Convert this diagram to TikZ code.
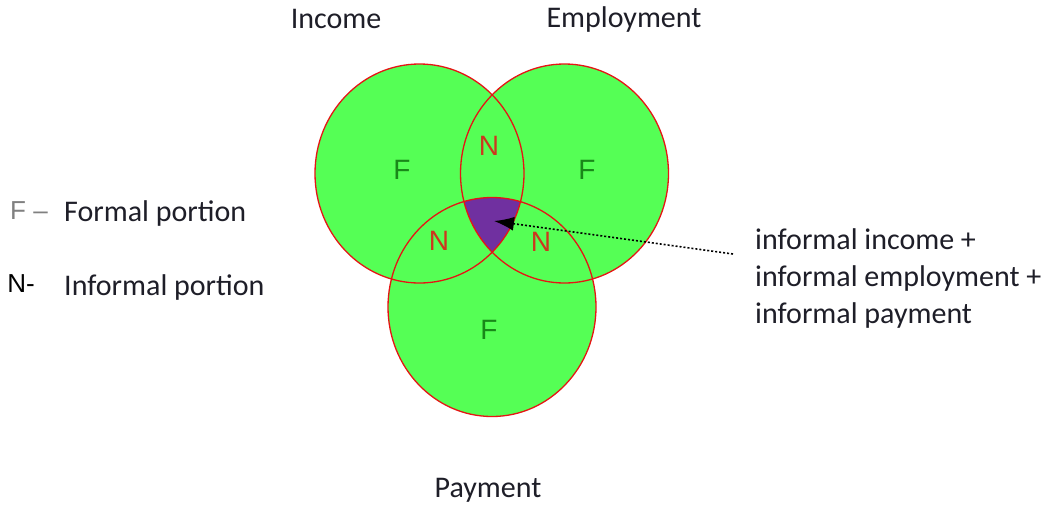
\documentclass[tikz,border=0pt]{standalone}
\usepackage{fontspec}
\setmainfont{Carlito}
\newfontfamily\arialf{Liberation Sans}
\usetikzlibrary{arrows.meta}
\definecolor{vgreen}{RGB}{85,255,85}
\definecolor{vpurple}{RGB}{112,48,160}
\definecolor{vred}{RGB}{230,20,20}
\definecolor{fgreen}{RGB}{25,135,25}
\definecolor{nred}{RGB}{205,55,30}
\definecolor{txt}{RGB}{30,30,40}
\begin{document}
\begin{tikzpicture}[x=1pt,y=-1pt,
  lbl/.style={font=\fontsize{30}{37}\selectfont, text=txt, inner sep=0pt},
  fl/.style={font=\arialf\fontsize{28}{30}\selectfont, text=fgreen, inner sep=0pt},
  nl/.style={font=\arialf\fontsize{28}{30}\selectfont, text=nred, inner sep=0pt},
  venn/.style={draw=vred, line width=1.3pt}]
\useasboundingbox (0,0) rectangle (1052,504);
\fill[white] (0,0) rectangle (1052,504);
% circles
\fill[vgreen] (419.5,173.5) ellipse [x radius=104.5, y radius=109.5];
\fill[vgreen] (564.5,173.5) ellipse [x radius=104, y radius=109.5];
\fill[vgreen] (492,307) ellipse [x radius=104, y radius=109.5];
\begin{scope}
\clip (419.5,173.5) ellipse [x radius=104.5, y radius=109.5];
\clip (564.5,173.5) ellipse [x radius=104, y radius=109.5];
\fill[vpurple] (492,307) ellipse [x radius=104, y radius=109.5];
\end{scope}
\draw[venn] (419.5,173.5) ellipse [x radius=104.5, y radius=109.5];
\draw[venn] (564.5,173.5) ellipse [x radius=104, y radius=109.5];
\draw[venn] (492,307) ellipse [x radius=104, y radius=109.5];
% labels inside
\node[fl] (f1) at (402,170) {F};
\node[fl] (f2) at (587,170) {F};
\node[fl] (f3) at (489,330) {F};
\node[nl] (n1) at (489,146) {N};
\node[nl] (n2) at (439,241) {N};
\node[nl] (n3) at (541,242) {N};
% titles
\node[lbl] (inc) at (336,19) {Income};
\node[lbl] (emp) at (624,19) {Employment};
\node[lbl] (pay) at (488,490) {Payment};
% legend
\node[font=\arialf\fontsize{26}{30}\selectfont, text=gray, inner sep=0pt] (fk) at (29,211) {F –};
\node[lbl, anchor=west] (fd) at (64,213) {Formal portion};
\node[font=\arialf\fontsize{26}{30}\selectfont, text=black, inner sep=0pt] (nk) at (21,284) {N-};
\node[lbl, anchor=west] (nd) at (64,287) {Informal portion};
% annotation
\node[lbl, anchor=north west, align=left] (info) at (755,228) {informal income +\\informal employment +\\informal payment};
\coordinate (tail) at (733,254);
\coordinate (tip) at (494,221);
\draw[black, line width=1.6pt, dash pattern=on 2pt off 2pt, -{Latex[length=20pt,width=14pt]}] (tail) -- (tip);
\end{tikzpicture}
\end{document}
